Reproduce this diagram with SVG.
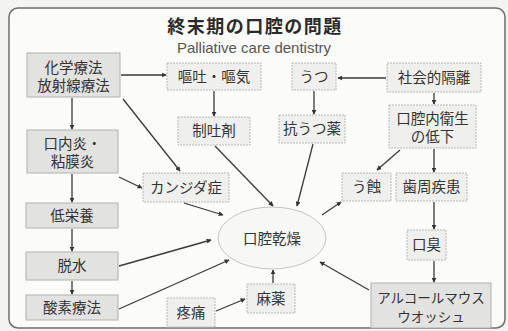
<svg xmlns="http://www.w3.org/2000/svg" width="508" height="331" viewBox="0 0 508 331">
<defs>
<marker id="ah" viewBox="0 0 8 8" refX="7" refY="4" markerWidth="5" markerHeight="5" orient="auto" markerUnits="userSpaceOnUse">
<path d="M0,0 L8,4 L0,8 z" fill="#333"/>
</marker>
<style>
.bg{fill:#f3f3f1}
.frame{fill:#fbfbfa;stroke:#6e6e6e;stroke-width:1.5}
.t{font-family:"Liberation Sans","Noto Sans CJK JP",sans-serif;fill:#333;font-size:14.5px;text-anchor:middle}
.title{font-family:"Liberation Sans","Noto Sans CJK JP",sans-serif;fill:#2a2a2a;font-size:18px;letter-spacing:1.5px;font-weight:bold;text-anchor:middle}
.sub{font-family:"Liberation Sans","Noto Sans",sans-serif;fill:#555;font-size:15px;text-anchor:middle}
.bx{fill:#efefee;stroke:#b8b8b8;stroke-width:1;stroke-dasharray:2 1}
.bd{fill:#e2e2e1;stroke:#b0b0b0;stroke-width:1}
.ell{fill:#f7f7f6;stroke:#c4c4c4;stroke-width:1}
.c line{stroke:#3a3a3a;stroke-width:1.3;marker-end:url(#ah)}
</style>
</defs>
<rect class="bg" x="0" y="0" width="508" height="331"/>
<rect class="frame" x="9" y="8" width="496" height="320" rx="9"/>
<text class="title" x="255" y="33">終末期の口腔の問題</text>
<text class="sub" x="254" y="53">Palliative care dentistry</text>

<g id="n-chemo"><rect class="bd" x="27" y="53" width="93" height="44"/><text class="t" x="73.5" y="73">化学療法</text><text class="t" x="73.5" y="91">放射線療法</text></g>
<g id="n-vomit"><rect class="bx" x="167" y="63" width="94" height="27"/><text class="t" x="214" y="82">嘔吐・嘔気</text></g>
<g id="n-utsu"><rect class="bx" x="292" y="63" width="44" height="27"/><text class="t" x="314" y="82">うつ</text></g>
<g id="n-social"><rect class="bx" x="387" y="63" width="94" height="29"/><text class="t" x="434" y="83">社会的隔離</text></g>
<g id="n-antiemetic"><rect class="bx" x="178" y="117" width="72" height="28"/><text class="t" x="214" y="136">制吐剤</text></g>
<g id="n-antidep"><rect class="bx" x="279" y="115" width="66" height="28"/><text class="t" x="312" y="134">抗うつ薬</text></g>
<g id="n-hygiene"><rect class="bx" x="389" y="105" width="87" height="43"/><text class="t" x="432.5" y="123.5">口腔内衛生</text><text class="t" x="432.5" y="142">の低下</text></g>
<g id="n-stomatitis"><rect class="bd" x="27" y="130" width="91" height="43"/><text class="t" x="72.5" y="148.5">口内炎・</text><text class="t" x="72.5" y="167">粘膜炎</text></g>
<g id="n-candida"><rect class="bx" x="143" y="173" width="86" height="29"/><text class="t" x="186" y="193">カンジダ症</text></g>
<g id="n-malnut"><rect class="bd" x="26" y="203" width="92" height="25"/><text class="t" x="72" y="221">低栄養</text></g>
<g id="n-dehyd"><rect class="bd" x="26" y="252" width="92" height="28"/><text class="t" x="72" y="271">脱水</text></g>
<g id="n-oxygen"><rect class="bd" x="26" y="295" width="92" height="25"/><text class="t" x="72" y="313">酸素療法</text></g>
<g id="n-pain"><rect class="bx" x="167" y="298" width="48" height="29"/><text class="t" x="191" y="318">疼痛</text></g>
<g id="n-narcotic"><rect class="bx" x="247" y="284" width="48" height="29"/><text class="t" x="271" y="304">麻薬</text></g>
<g id="n-caries"><rect class="bx" x="342" y="173" width="49" height="28"/><text class="t" x="366.5" y="192">う蝕</text></g>
<g id="n-perio"><rect class="bx" x="396" y="173" width="71" height="28"/><text class="t" x="431.5" y="192">歯周疾患</text></g>
<g id="n-halitosis"><rect class="bx" x="407" y="230" width="39" height="30"/><text class="t" x="426.5" y="250">口臭</text></g>
<g id="n-mouthwash"><rect class="bd" x="371" y="283" width="120" height="45"/><text class="t" x="431" y="303" style="font-size:13.5px">アルコールマウス</text><text class="t" x="431" y="322" style="font-size:13.5px">ウオッシュ</text></g>
<g id="n-dry"><ellipse class="ell" cx="272" cy="238" rx="54" ry="31"/><text class="t" x="272" y="244">口腔乾燥</text></g>

<g id="connectors" class="c">
<line x1="121" y1="75" x2="166" y2="75"/>
<line x1="72" y1="98" x2="72" y2="129"/>
<line x1="123" y1="99" x2="180" y2="171"/>
<line x1="214" y1="91" x2="214" y2="116"/>
<line x1="215" y1="146" x2="273" y2="206"/>
<line x1="314" y1="91" x2="314" y2="114"/>
<line x1="313" y1="144" x2="297" y2="206"/>
<line x1="386" y1="78" x2="338" y2="78"/>
<line x1="434" y1="93" x2="434" y2="104"/>
<line x1="400" y1="150" x2="377" y2="170"/>
<line x1="434" y1="149" x2="434" y2="172"/>
<line x1="434" y1="202" x2="434" y2="229"/>
<line x1="434" y1="261" x2="434" y2="282"/>
<line x1="322" y1="215" x2="341" y2="202"/>
<line x1="369" y1="290" x2="320" y2="262"/>
<line x1="273" y1="283" x2="273" y2="270"/>
<line x1="216" y1="311" x2="245" y2="299"/>
<line x1="72" y1="174" x2="72" y2="202"/>
<line x1="119" y1="177" x2="142" y2="188"/>
<line x1="184" y1="203" x2="223" y2="215"/>
<line x1="72" y1="229" x2="72" y2="251"/>
<line x1="119" y1="266" x2="211" y2="240"/>
<line x1="72" y1="281" x2="72" y2="294"/>
<line x1="119" y1="309" x2="229" y2="260"/>
</g>
</svg>
